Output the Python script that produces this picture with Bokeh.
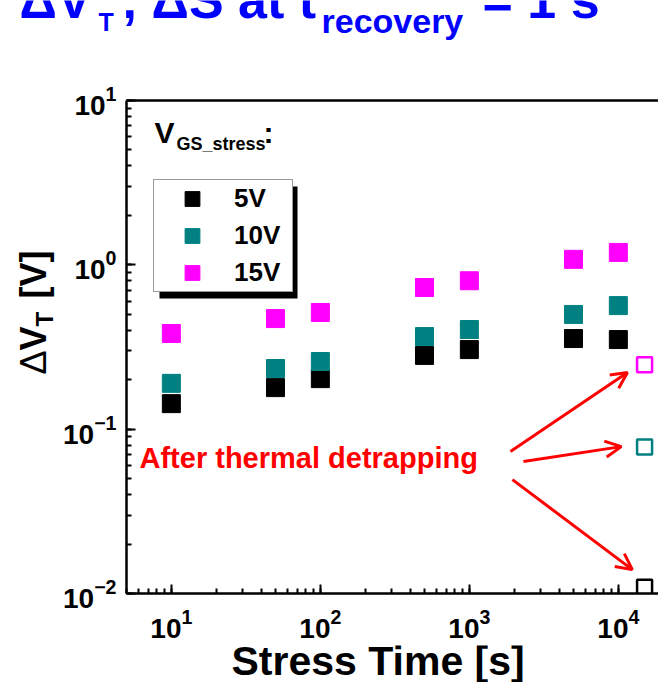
import math
from bokeh.plotting import figure
from bokeh.layouts import column, row
from bokeh.models import (Label, Legend, LegendItem, Arrow, OpenHead, BoxAnnotation,
                          LogAxis, FixedTicker, LogTicker)
from bokeh.embed import file_html
from bokeh.resources import INLINE

# ---------------- data ----------------
stress_time = [10, 50, 100, 500, 1000, 5000, 10000]
dvt_5v = [0.143, 0.179, 0.203, 0.281, 0.305, 0.356, 0.351]
dvt_10v = [0.190, 0.234, 0.258, 0.366, 0.404, 0.499, 0.565]
dvt_15v = [0.382, 0.471, 0.513, 0.728, 0.80, 1.08, 1.19]

detrap_time = [15000]
detrap_5v = [0.0109]
detrap_10v = [0.078]
detrap_15v = [0.247]

series_labels = ["5V", "10V", "15V"]
series_colors = ["#000000", "#008080", "#FF00FF"]

# arrows (annotation positions, data space)
arrow_x0 = [1888, 2307, 1946]
arrow_y0 = [0.0731, 0.0635, 0.0493]
arrow_x1 = [11510, 10470, 12410]
arrow_y1 = [0.221, 0.0783, 0.01397]

FONT = "Liberation Sans"
BLUE = "#0000FF"
RED = "#FF0000"
MID = 0.346  # baseline offset from text middle, as a fraction of font size


def strip(w, h):
    f = figure(width=w, height=h, x_range=(0, 1), y_range=(0, 1),
               output_backend="svg", toolbar_location=None,
               x_axis_location=None, y_axis_location=None,
               min_border=0, min_border_left=0, min_border_right=0,
               min_border_top=0, min_border_bottom=0)
    f.outline_line_color = None
    f.xgrid.visible = False
    f.ygrid.visible = False
    f.background_fill_color = "white"
    f.border_fill_color = "white"
    return f


def lab(fig, text, x, y, size, color="black", style="bold", rotated=False):
    # (x, y): start of the text on its baseline, frame-relative screen units
    if rotated:
        ax, ay, angle = x - MID * size, y, math.pi / 2
    else:
        ax, ay, angle = x, y + MID * size, 0.0
    fig.add_layout(Label(x=ax, y=ay, x_units="screen", y_units="screen", text=text,
                         text_font=FONT, text_font_style=style,
                         text_font_size=f"{size}px", text_color=color, angle=angle,
                         text_align="left", text_baseline="middle"))


# ---------------- title strip ----------------
tfig = strip(658, 50)
lab(tfig, "ΔV", 19, 33, 52, BLUE)
lab(tfig, "T", 98, 20, 25, BLUE)
lab(tfig, ",", 122, 33, 52, BLUE)
lab(tfig, "ΔS at t", 151, 33, 52, BLUE)
lab(tfig, "recovery", 321, 18, 34, BLUE)
lab(tfig, "= 1 s", 482, 33, 52, BLUE)

# ---------------- y label strip (frame aligned with main frame) ----------------
yfig = strip(60, 595)
lab(yfig, "Δ", 45, 219, 36, style="normal", rotated=True)
lab(yfig, "V", 45, 243, 36, rotated=True)
lab(yfig, "T", 52, 267, 24, rotated=True)
lab(yfig, "[V]", 45, 295, 36, rotated=True)

# ---------------- main plot ----------------
p = figure(width=598, height=595, x_axis_type="log", y_axis_type="log",
           x_range=(5, 18600), y_range=(0.01, 10),
           output_backend="svg", toolbar_location=None,
           min_border_left=66, min_border_right=0, min_border_top=50, min_border_bottom=52)
p.outline_line_color = None
p.grid.visible = False
p.background_fill_color = "white"
p.border_fill_color = "white"

for ax in [p.xaxis[0], p.yaxis[0]]:
    ax.ticker = LogTicker(num_minor_ticks=10)
    ax.axis_line_width = 2.5
    ax.axis_line_color = "black"
    ax.major_tick_in = 9
    ax.major_tick_out = 0
    ax.minor_tick_in = 5
    ax.minor_tick_out = 0
    ax.major_tick_line_width = 2
    ax.minor_tick_line_width = 2
    ax.major_label_text_font = FONT
    ax.major_label_text_font_style = "bold"
    ax.major_label_text_font_size = "28px"
    ax.major_label_text_color = "black"
p.yaxis[0].major_label_standoff = 10
p.xaxis[0].major_label_standoff = 15

top_axis = LogAxis(ticker=FixedTicker(ticks=[]), axis_line_width=2.5, axis_line_color="black")
p.add_layout(top_axis, "above")

rends = []
for ys, c in zip([dvt_5v, dvt_10v, dvt_15v], series_colors):
    r = p.scatter(stress_time, ys, marker="square", size=18, fill_color=c, line_color=c)
    rends.append(r)
for ys, c in zip([detrap_5v, detrap_10v, detrap_15v], series_colors):
    p.scatter(detrap_time, ys, marker="square", size=15, fill_color="white",
              line_color=c, line_width=2.5)

for x0, y0, x1, y1 in zip(arrow_x0, arrow_y0, arrow_x1, arrow_y1):
    p.add_layout(Arrow(x_start=x0, y_start=y0, x_end=x1, y_end=y1,
                       line_color=RED, line_width=3,
                       end=OpenHead(size=16, line_color=RED, line_width=3)))

p.add_layout(BoxAnnotation(left=33, right=171, bottom=295, top=407,
                           left_units="screen", right_units="screen",
                           bottom_units="screen", top_units="screen",
                           fill_color="black", fill_alpha=1, line_color=None))
legend = Legend(items=[LegendItem(label=l, renderers=[r]) for l, r in zip(series_labels, rends)],
                location=(27, 301), orientation="vertical",
                glyph_width=76, glyph_height=37, label_height=37, label_width=58,
                spacing=0, padding=0, margin=0, label_standoff=4,
                border_line_color="#333333", border_line_width=1,
                background_fill_color="white", background_fill_alpha=1,
                label_text_font=FONT, label_text_font_style="bold",
                label_text_font_size="26px", label_text_color="black")
p.add_layout(legend)

# frame-relative (frame left = page 126, frame bottom = page 593)
lab(p, "V", 28, 451, 30)
lab(p, "GS_stress", 50, 443, 18)
lab(p, ":", 137, 451, 30)
lab(p, "After thermal detrapping", 13, 125, 29, RED)

# ---------------- x label strip ----------------
xfig = strip(658, 37)
lab(xfig, "Stress Time [s]", 231, 7, 41)

layout = column(tfig, row(yfig, p), xfig)

open("out.html", "w").write(file_html(layout, INLINE))
